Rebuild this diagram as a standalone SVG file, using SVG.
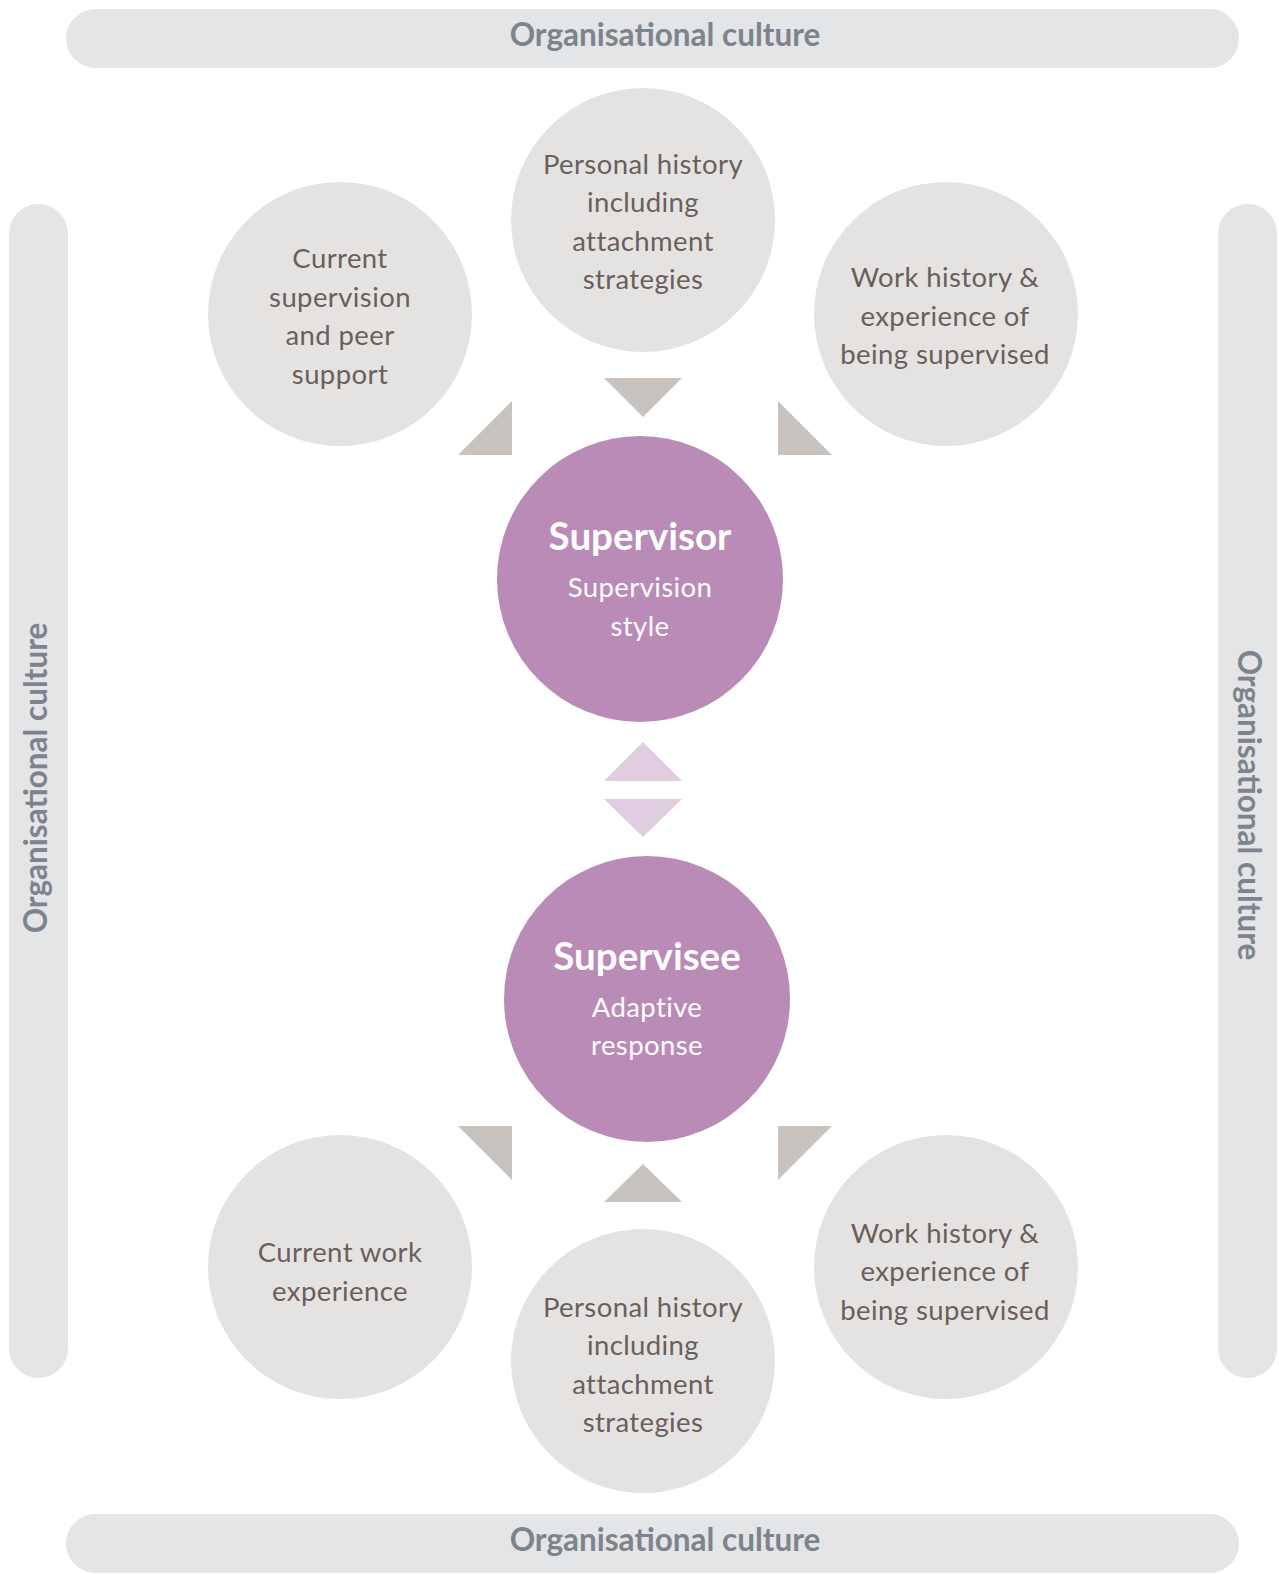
<svg xmlns="http://www.w3.org/2000/svg" width="1279" height="1574" viewBox="0 0 1279 1574">
  <style>
    .bar { fill: #e4e5e7; }
    .bar-text { font-family: Lato, "Liberation Sans", sans-serif; font-weight: 700; font-size: 31.5px; fill: #7d848c; text-anchor: middle; }
    .factor { fill: #e5e3e1; }
    .factor-text { font-family: Lato, "Liberation Sans", sans-serif; font-size: 27.5px; fill: #6b5f5b; text-anchor: middle; letter-spacing: 0.4px; }
    .core { fill: #b98bb6; }
    .core-title { font-family: Lato, "Liberation Sans", sans-serif; font-weight: 700; font-size: 38.5px; fill: #ffffff; text-anchor: middle; }
    .core-text { font-family: Lato, "Liberation Sans", sans-serif; font-size: 27.5px; fill: #ffffff; text-anchor: middle; letter-spacing: 0.4px; }
    .tri { fill: #c8c3bf; }
    .tri-core { fill: #e0cde0; }
  </style>

  <!-- Organisational culture frame -->
  <g id="culture-top">
    <rect class="bar" x="66" y="9" width="1173" height="59" rx="29.5"/>
    <text class="bar-text" x="665" y="46">Organisational culture</text>
  </g>
  <g id="culture-bottom">
    <rect class="bar" x="66" y="1514" width="1173" height="59" rx="29.5"/>
    <text class="bar-text" x="665" y="1551">Organisational culture</text>
  </g>
  <g id="culture-left">
    <rect class="bar" x="9" y="204" width="59" height="1174" rx="29.5"/>
    <text class="bar-text" transform="translate(47 778) rotate(-90)">Organisational culture</text>
  </g>
  <g id="culture-right">
    <rect class="bar" x="1218" y="204" width="59" height="1174" rx="29.5"/>
    <text class="bar-text" transform="translate(1238 805) rotate(90)">Organisational culture</text>
  </g>

  <!-- Supervisor influences -->
  <g id="sup-personal-history">
    <circle class="factor" cx="643" cy="220" r="132"/>
    <text class="factor-text"><tspan x="643" y="174">Personal history</tspan><tspan x="643" y="212">including</tspan><tspan x="643" y="251">attachment</tspan><tspan x="643" y="289">strategies</tspan></text>
  </g>
  <g id="sup-current-supervision">
    <circle class="factor" cx="340" cy="314" r="132"/>
    <text class="factor-text"><tspan x="340" y="268">Current</tspan><tspan x="340" y="307">supervision</tspan><tspan x="340" y="345">and peer</tspan><tspan x="340" y="384">support</tspan></text>
  </g>
  <g id="sup-work-history">
    <circle class="factor" cx="946" cy="314" r="132"/>
    <text class="factor-text"><tspan x="945" y="287">Work history &amp;</tspan><tspan x="945" y="326">experience of</tspan><tspan x="945" y="364">being supervised</tspan></text>
  </g>

  <!-- Core relationship -->
  <g id="supervisor">
    <circle class="core" cx="640" cy="579" r="143"/>
    <text class="core-title" x="640" y="550">Supervisor</text>
    <text class="core-text"><tspan x="640" y="597">Supervision</tspan><tspan x="640" y="636">style</tspan></text>
  </g>
  <g id="supervisee">
    <circle class="core" cx="647" cy="999" r="143"/>
    <text class="core-title" x="647" y="970">Supervisee</text>
    <text class="core-text"><tspan x="647" y="1017">Adaptive</tspan><tspan x="647" y="1055">response</tspan></text>
  </g>

  <!-- Supervisee influences -->
  <g id="see-current-work">
    <circle class="factor" cx="340" cy="1267" r="132"/>
    <text class="factor-text"><tspan x="340" y="1262">Current work</tspan><tspan x="340" y="1301">experience</tspan></text>
  </g>
  <g id="see-personal-history">
    <circle class="factor" cx="643" cy="1361" r="132"/>
    <text class="factor-text"><tspan x="643" y="1317">Personal history</tspan><tspan x="643" y="1355">including</tspan><tspan x="643" y="1394">attachment</tspan><tspan x="643" y="1432">strategies</tspan></text>
  </g>
  <g id="see-work-history">
    <circle class="factor" cx="946" cy="1267" r="132"/>
    <text class="factor-text"><tspan x="945" y="1243">Work history &amp;</tspan><tspan x="945" y="1281">experience of</tspan><tspan x="945" y="1320">being supervised</tspan></text>
  </g>

  <!-- Connectors: triangular pointers -->
  <g id="connectors">
    <polygon class="tri" points="604,378 682,378 643,417"/>
    <polygon class="tri" points="458,455 512,455 512,401"/>
    <polygon class="tri" points="778,401 778,455 832,455"/>
    <polygon class="tri-core" points="643,742 682,781 604,781"/>
    <polygon class="tri-core" points="604,799 682,799 643,837"/>
    <polygon class="tri" points="458,1126 512,1126 512,1180"/>
    <polygon class="tri" points="778,1126 832,1126 778,1180"/>
    <polygon class="tri" points="643,1164 682,1202 604,1202"/>
  </g>
</svg>
